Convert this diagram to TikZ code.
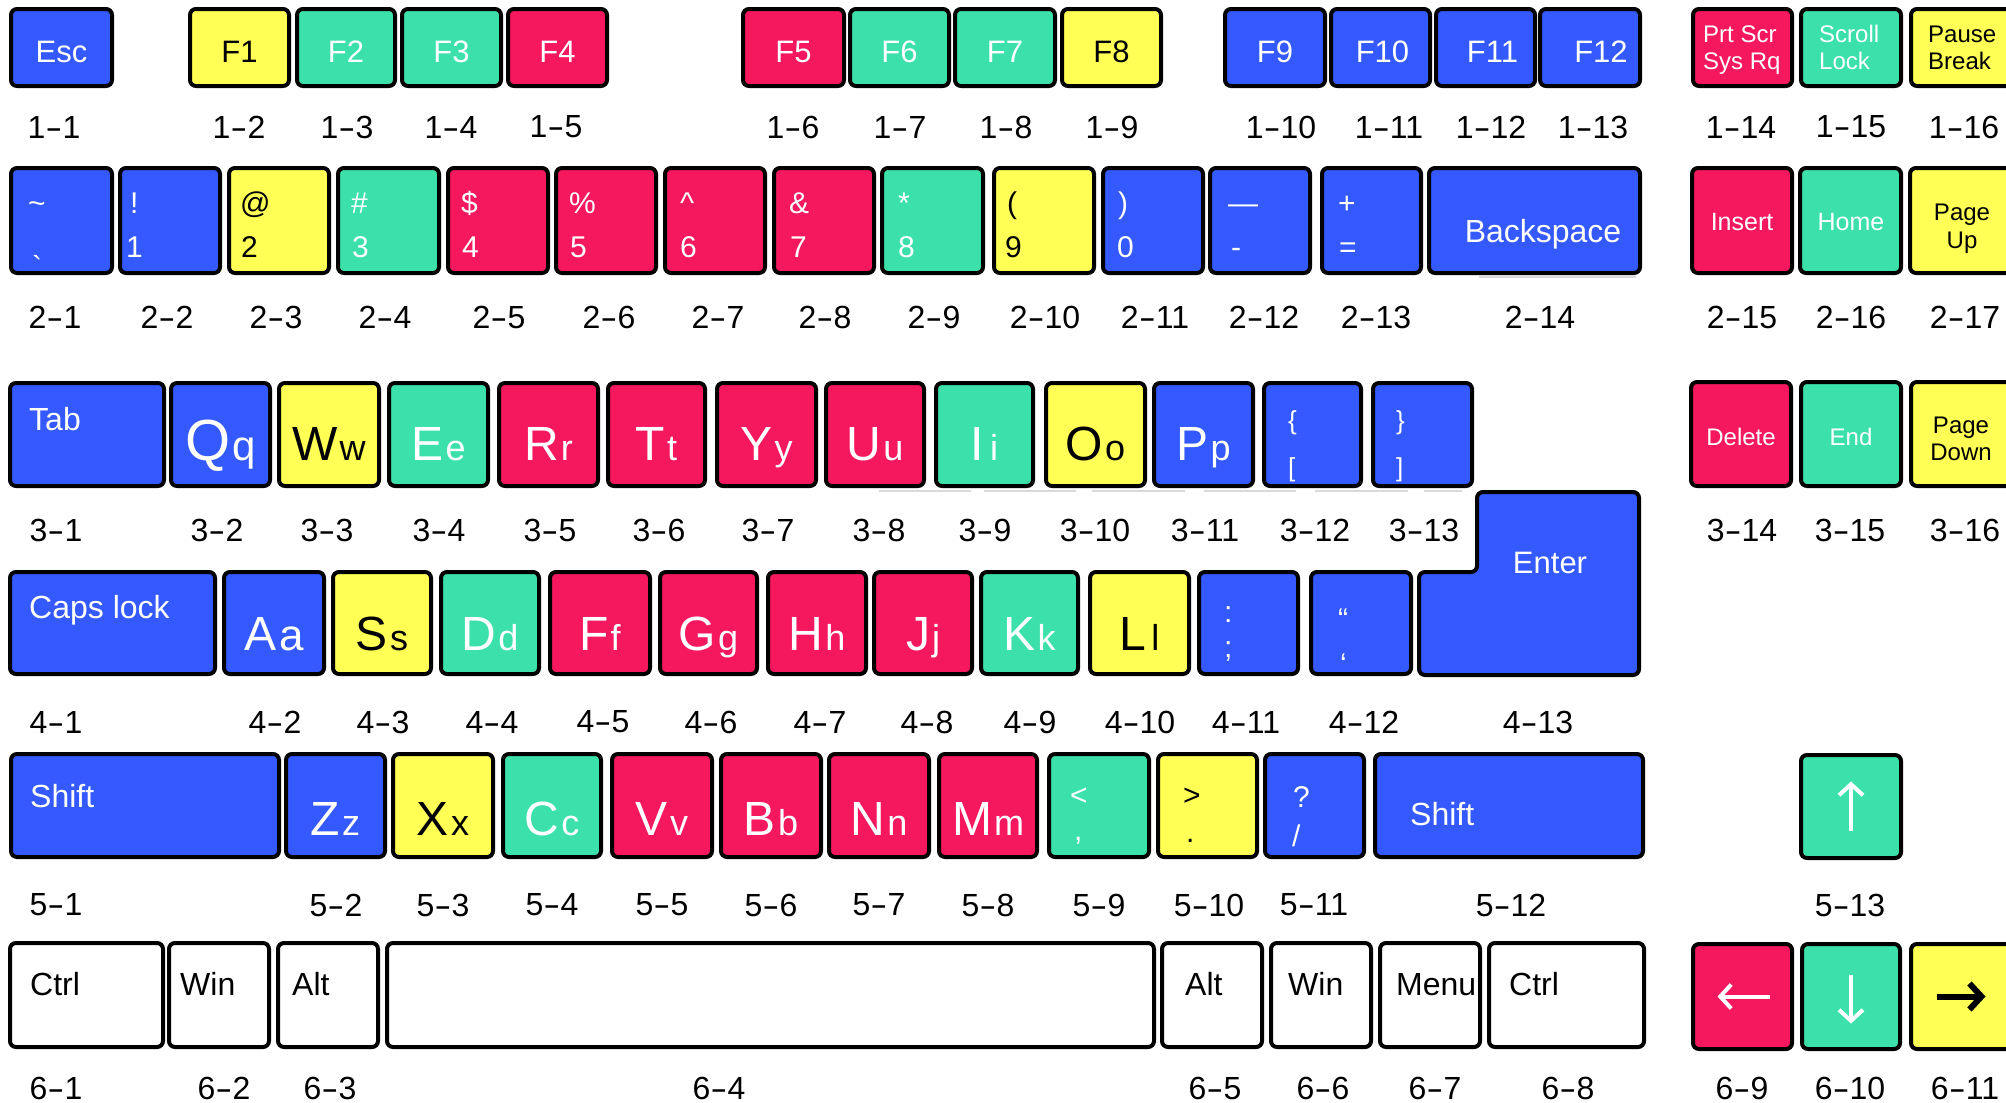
\documentclass[tikz,border=0pt]{standalone}
\usepackage{fontspec}
\usepackage{graphicx}
\setmainfont{Liberation Sans}
\usetikzlibrary{arrows.meta}
\definecolor{kb}{HTML}{3359FF}
\definecolor{kr}{HTML}{F5185F}
\definecolor{kg}{HTML}{3CE0AA}
\definecolor{ky}{HTML}{FFFF55}
\newcommand\hy{\scalebox{1.6}[1]{-}}
\newcommand\ltr[2]{{\fontsize{48}{48}\selectfont #1}\kern2pt{\fontsize{36}{36}\selectfont #2}}
\newcommand\ky[6]{\node[keyst,fill=#6,minimum width={(#4)-(#2)},minimum height={(#5)-(#3)}] (#1) at ({((#2)+(#4))/2},{((#3)+(#5))/2}) {};}
\newcommand\lb[4]{\node[lab] (l#1-#2) at (#3,#4) {#1\hy#2};}
\newcommand\tx[5]{\node[#4] (#1) at (#2,#3) {#5};}
\begin{document}
\begin{tikzpicture}[x=1pt,y=-1pt,
 keyst/.style={draw=black, line width=4pt, rounded corners=6pt, inner sep=0pt, outer sep=0pt},
 wt/.style={text=white, inner sep=0pt, anchor=base},
 bt/.style={text=black, inner sep=0pt, anchor=base},
 wl/.style={text=white, inner sep=0pt, anchor=base west},
 bl/.style={text=black, inner sep=0pt, anchor=base west},
 f31/.style={font=\fontsize{31}{31}\selectfont},
 f32/.style={font=\fontsize{32}{32}\selectfont},
 f30/.style={font=\fontsize{30}{30}\selectfont},
 f26/.style={font=\fontsize{26}{26}\selectfont},
 f25/.style={font=\fontsize{25}{25}\selectfont},
 f24/.style={font=\fontsize{24}{24}\selectfont},
 lab/.style={font=\fontsize{32}{32}\selectfont, inner sep=0pt, text=black},
 arw/.style={white, line width=4pt, -{Straight Barb[length=11pt,width=24pt]}},
 artf/.style={gray!30, line width=1.5pt}]
\useasboundingbox (0,0) rectangle (2006,1103);
\fill[white] (0,0) rectangle (2006,1103);
\clip (0,0) rectangle (2006,1103);

% ---------- row 1 ----------
\ky{k1-1}{11}{9}{112}{86}{kb}
\ky{k1-2}{190}{9}{289}{86}{ky}
\ky{k1-3}{297}{9}{395}{86}{kg}
\ky{k1-4}{402}{9}{501}{86}{kg}
\ky{k1-5}{508}{9}{607}{86}{kr}
\ky{k1-6}{743}{9}{844}{86}{kr}
\ky{k1-7}{850}{9}{949}{86}{kg}
\ky{k1-8}{955}{9}{1055}{86}{kg}
\ky{k1-9}{1062}{9}{1161}{86}{ky}
\ky{k1-10}{1225}{9}{1325}{86}{kb}
\ky{k1-11}{1331}{9}{1430}{86}{kb}
\ky{k1-12}{1436}{9}{1535}{86}{kb}
\ky{k1-13}{1540}{9}{1640}{86}{kb}
\ky{k1-14}{1693}{9}{1792}{86}{kr}
\ky{k1-15}{1801}{9}{1901}{86}{kg}
\ky{k1-16}{1911}{9}{2012}{86}{ky}
\node[wt,f31] (t1-1) at ([yshift=-14.5pt]k1-1.center) {Esc};
\node[bt,f31] (t1-2) at ([yshift=-14.5pt]k1-2.center) {F1};
\node[wt,f31] (t1-3) at ([yshift=-14.5pt]k1-3.center) {F2};
\node[wt,f31] (t1-4) at ([yshift=-14.5pt]k1-4.center) {F3};
\node[wt,f31] (t1-5) at ([yshift=-14.5pt]k1-5.center) {F4};
\node[wt,f31] (t1-6) at ([yshift=-14.5pt]k1-6.center) {F5};
\node[wt,f31] (t1-7) at ([yshift=-14.5pt]k1-7.center) {F6};
\node[wt,f31] (t1-8) at ([yshift=-14.5pt]k1-8.center) {F7};
\node[bt,f31] (t1-9) at ([yshift=-14.5pt]k1-9.center) {F8};
\node[wt,f31] (t1-10) at ([yshift=-14.5pt]k1-10.center) {F9};
\node[wt,f31] (t1-11) at ([yshift=-14.5pt,xshift=2pt]k1-11.center) {F10};
\node[wt,f31] (t1-12) at ([yshift=-14.5pt,xshift=7pt]k1-12.center) {F11};
\node[wt,f31] (t1-13) at ([yshift=-14.5pt,xshift=11pt]k1-13.center) {F12};
\tx{t1-14a}{1703}{42}{wl,f24}{Prt Scr}
\tx{t1-14b}{1703}{69}{wl,f24}{Sys Rq}
\tx{t1-15a}{1819}{42}{wl,f24}{Scroll}
\tx{t1-15b}{1819}{69}{wl,f24}{Lock}
\tx{t1-16a}{1928}{42}{bl,f24}{Pause}
\tx{t1-16b}{1928}{69}{bl,f24}{Break}
\lb{1}{1}{54}{127}
\lb{1}{2}{239}{127}
\lb{1}{3}{347}{127}
\lb{1}{4}{451}{127}
\lb{1}{5}{556}{127}
\lb{1}{6}{793}{127}
\lb{1}{7}{900}{127}
\lb{1}{8}{1006}{127}
\lb{1}{9}{1112}{127}
\lb{1}{10}{1281}{127}
\lb{1}{11}{1389}{127}
\lb{1}{12}{1491}{127}
\lb{1}{13}{1593}{127}
\lb{1}{14}{1741}{127}
\lb{1}{15}{1851}{127}
\lb{1}{16}{1964}{127}

% ---------- row 2 ----------
\ky{k2-1}{11}{168}{112}{273}{kb}
\ky{k2-2}{120}{168}{220}{273}{kb}
\ky{k2-3}{229}{168}{329}{273}{ky}
\ky{k2-4}{338}{168}{439}{273}{kg}
\ky{k2-5}{448}{168}{548}{273}{kr}
\ky{k2-6}{556}{168}{656}{273}{kr}
\ky{k2-7}{665}{168}{765}{273}{kr}
\ky{k2-8}{774}{168}{874}{273}{kr}
\ky{k2-9}{882}{168}{983}{273}{kg}
\ky{k2-10}{994}{168}{1094}{273}{ky}
\ky{k2-11}{1103}{168}{1203}{273}{kb}
\ky{k2-12}{1210}{168}{1310}{273}{kb}
\ky{k2-13}{1322}{168}{1421}{273}{kb}
\ky{k2-14}{1429}{168}{1640}{273}{kb}
\ky{k2-15}{1692}{168}{1792}{273}{kr}
\ky{k2-16}{1800}{168}{1901}{273}{kg}
\ky{k2-17}{1910}{168}{2012}{273}{ky}
\tx{t2-1a}{28}{213}{wl,f30}{\textasciitilde}
\tx{t2-1b}{32}{277}{wl,f30}{\textasciigrave}
\tx{t2-2a}{130}{213}{wl,f30}{!}
\tx{t2-2b}{126}{257}{wl,f30}{1}
\tx{t2-3a}{240}{213}{bl,f30}{@}
\tx{t2-3b}{241}{257}{bl,f30}{2}
\tx{t2-4a}{351}{213}{wl,f30}{\#}
\tx{t2-4b}{352}{257}{wl,f30}{3}
\tx{t2-5a}{461}{213}{wl,f30}{\$}
\tx{t2-5b}{462}{257}{wl,f30}{4}
\tx{t2-6a}{569}{213}{wl,f30}{\%}
\tx{t2-6b}{570}{257}{wl,f30}{5}
\tx{t2-7a}{680}{213}{wl,f30}{\textasciicircum}
\tx{t2-7b}{680}{257}{wl,f30}{6}
\tx{t2-8a}{789}{213}{wl,f30}{\&}
\tx{t2-8b}{790}{257}{wl,f30}{7}
\tx{t2-9a}{898}{213}{wl,f30}{*}
\tx{t2-9b}{898}{257}{wl,f30}{8}
\tx{t2-10a}{1007}{213}{bl,f30}{(}
\tx{t2-10b}{1005}{257}{bl,f30}{9}
\tx{t2-11a}{1118}{213}{wl,f30}{)}
\tx{t2-11b}{1117}{257}{wl,f30}{0}
\tx{t2-12a}{1228}{213}{wl,f30}{—}
\tx{t2-12b}{1231}{257}{wl,f30}{-}
\tx{t2-13a}{1338}{213}{wl,f30}{+}
\tx{t2-13b}{1339}{257}{wl,f30}{=}
\tx{t2-14}{1543}{242}{wt,f32}{Backspace}
\tx{t2-15}{1742}{230}{wt,f25}{Insert}
\tx{t2-16}{1851}{230}{wt,f25}{Home}
\tx{t2-17a}{1962}{220}{bt,f24}{Page}
\tx{t2-17b}{1962}{248}{bt,f24}{Up}
\lb{2}{1}{55}{317}
\lb{2}{2}{167}{317}
\lb{2}{3}{276}{317}
\lb{2}{4}{385}{317}
\lb{2}{5}{499}{317}
\lb{2}{6}{609}{317}
\lb{2}{7}{718}{317}
\lb{2}{8}{825}{317}
\lb{2}{9}{934}{317}
\lb{2}{10}{1045}{317}
\lb{2}{11}{1155}{317}
\lb{2}{12}{1264}{317}
\lb{2}{13}{1376}{317}
\lb{2}{14}{1540}{317}
\lb{2}{15}{1742}{317}
\lb{2}{16}{1851}{317}
\lb{2}{17}{1965}{317}

% ---------- row 3 ----------
\ky{k3-1}{10}{383}{164}{486}{kb}
\ky{k3-2}{171}{383}{270}{486}{kb}
\ky{k3-3}{279}{383}{379}{486}{ky}
\ky{k3-4}{389}{383}{488}{486}{kg}
\ky{k3-5}{499}{383}{598}{486}{kr}
\ky{k3-6}{608}{383}{705}{486}{kr}
\ky{k3-7}{717}{383}{816}{486}{kr}
\ky{k3-8}{826}{383}{924}{486}{kr}
\ky{k3-9}{936}{383}{1033}{486}{kg}
\ky{k3-10}{1046}{383}{1145}{486}{ky}
\ky{k3-11}{1154}{383}{1253}{486}{kb}
\ky{k3-12}{1264}{383}{1361}{486}{kb}
\ky{k3-13}{1373}{383}{1472}{486}{kb}
\ky{k3-14}{1691}{382}{1791}{486}{kr}
\ky{k3-15}{1801}{382}{1901}{486}{kg}
\ky{k3-16}{1911}{382}{2012}{486}{ky}
\draw[artf] (879,491) -- (971,491) (984,491) -- (1076,491) (1092,491) -- (1185,491)
  (1204,491) -- (1296,491) (1315,491) -- (1408,491) (1424,491) -- (1462,491);
\draw[artf] (1479,277) -- (1636,277);
\tx{t3-1}{29}{430}{wl,f32}{Tab}
\node[wt] (t3-2) at ([yshift=-25.5pt]k3-2.center) {{\fontsize{58}{58}\selectfont Q}\kern2pt{\fontsize{42}{42}\selectfont q}};
\node[bt] (t3-3) at ([yshift=-25.5pt]k3-3.center) {\ltr{W}{w}};
\node[wt] (t3-4) at ([yshift=-25.5pt]k3-4.center) {\ltr{E}{e}};
\node[wt] (t3-5) at ([yshift=-25.5pt]k3-5.center) {\ltr{R}{r}};
\node[wt] (t3-6) at ([yshift=-25.5pt]k3-6.center) {\ltr{T}{t}};
\node[wt] (t3-7) at ([yshift=-25.5pt]k3-7.center) {\ltr{Y}{y}};
\node[wt] (t3-8) at ([yshift=-25.5pt]k3-8.center) {\ltr{U}{u}};
\node[wt] (t3-9) at ([yshift=-25.5pt]k3-9.center) {\ltr{I}{\kern4pt i}};
\node[bt] (t3-10) at ([yshift=-25.5pt]k3-10.center) {\ltr{O}{o}};
\node[wt] (t3-11) at ([yshift=-25.5pt]k3-11.center) {\ltr{P}{p}};
\tx{t3-12a}{1288}{429}{wl,f26}{\{}
\tx{t3-12b}{1288}{476}{wl,f26}{[}
\tx{t3-13a}{1396}{429}{wl,f26}{\}}
\tx{t3-13b}{1396}{476}{wl,f26}{]}
\tx{t3-14}{1741}{445}{wt,f24}{Delete}
\tx{t3-15}{1851}{445}{wt,f24}{End}
\tx{t3-16a}{1961}{433}{bt,f24}{Page}
\tx{t3-16b}{1961}{460}{bt,f24}{Down}
\lb{3}{1}{56}{530}
\lb{3}{2}{217}{530}
\lb{3}{3}{327}{530}
\lb{3}{4}{439}{530}
\lb{3}{5}{550}{530}
\lb{3}{6}{659}{530}
\lb{3}{7}{768}{530}
\lb{3}{8}{879}{530}
\lb{3}{9}{985}{530}
\lb{3}{10}{1095}{530}
\lb{3}{11}{1205}{530}
\lb{3}{12}{1315}{530}
\lb{3}{13}{1424}{530}
\lb{3}{14}{1742}{530}
\lb{3}{15}{1850}{530}
\lb{3}{16}{1965}{530}

% ---------- row 4 ----------
\ky{k4-1}{10}{572}{215}{674}{kb}
\ky{k4-2}{224}{572}{324}{674}{kb}
\ky{k4-3}{333}{572}{431}{674}{ky}
\ky{k4-4}{441}{572}{539}{674}{kg}
\ky{k4-5}{550}{572}{650}{674}{kr}
\ky{k4-6}{660}{572}{757}{674}{kr}
\ky{k4-7}{768}{572}{866}{674}{kr}
\ky{k4-8}{874}{572}{972}{674}{kr}
\ky{k4-9}{981}{572}{1078}{674}{kg}
\ky{k4-10}{1090}{572}{1189}{674}{ky}
\ky{k4-11}{1199}{572}{1298}{674}{kb}
\ky{k4-12}{1311}{572}{1411}{674}{kb}
\draw[keyst,fill=kb] (1419,572) -- (1477,572) -- (1477,492) -- (1639,492) -- (1639,675) -- (1419,675) -- cycle;
\coordinate (k4-13) at (1529,623);
\tx{t4-13}{1550}{573}{wt,f31}{Enter}
\tx{t4-1}{29}{618}{wl,f32}{Caps lock}
\node[wt] (t4-2) at ([yshift=-27pt]k4-2.center) {{\fontsize{48}{48}\selectfont A}\kern3pt{\fontsize{44}{44}\selectfont a}};
\node[bt] (t4-3) at ([yshift=-27pt]k4-3.center) {\ltr{S}{s}};
\node[wt] (t4-4) at ([yshift=-27pt]k4-4.center) {\ltr{D}{d}};
\node[wt] (t4-5) at ([yshift=-27pt]k4-5.center) {\ltr{F}{f}};
\node[wt] (t4-6) at ([yshift=-27pt]k4-6.center) {\ltr{G}{g}};
\node[wt] (t4-7) at ([yshift=-27pt]k4-7.center) {\ltr{H}{h}};
\node[wt] (t4-8) at ([yshift=-27pt]k4-8.center) {\ltr{J}{j}};
\node[wt] (t4-9) at ([yshift=-27pt]k4-9.center) {\ltr{K}{k}};
\node[bt] (t4-10) at ([yshift=-27pt]k4-10.center) {\ltr{L}{\kern3pt l}};
\tx{t4-11a}{1224}{622}{wl,f30}{:}
\tx{t4-11b}{1224}{657}{wl,f30}{;}
\tx{t4-12a}{1338}{629}{wl,f30}{“}
\tx{t4-12b}{1340}{674}{wl,f30}{‘}
\lb{4}{1}{56}{722}
\lb{4}{2}{275}{722}
\lb{4}{3}{383}{722}
\lb{4}{4}{492}{722}
\lb{4}{5}{603}{722}
\lb{4}{6}{711}{722}
\lb{4}{7}{820}{722}
\lb{4}{8}{927}{722}
\lb{4}{9}{1030}{722}
\lb{4}{10}{1140}{722}
\lb{4}{11}{1246}{722}
\lb{4}{12}{1364}{722}
\lb{4}{13}{1538}{722}

% ---------- row 5 ----------
\ky{k5-1}{11}{754}{279}{857}{kb}
\ky{k5-2}{286}{754}{385}{857}{kb}
\ky{k5-3}{393}{754}{493}{857}{ky}
\ky{k5-4}{503}{754}{601}{857}{kg}
\ky{k5-5}{612}{754}{712}{857}{kr}
\ky{k5-6}{721}{754}{821}{857}{kr}
\ky{k5-7}{829}{754}{929}{857}{kr}
\ky{k5-8}{939}{754}{1037}{857}{kr}
\ky{k5-9}{1049}{754}{1149}{857}{kg}
\ky{k5-10}{1158}{754}{1257}{857}{ky}
\ky{k5-11}{1265}{754}{1364}{857}{kb}
\ky{k5-12}{1375}{754}{1643}{857}{kb}
\ky{k5-13}{1801}{755}{1901}{858}{kg}
\tx{t5-1}{30}{807}{wl,f32}{Shift}
\node[wt] (t5-2) at ([yshift=-30pt]k5-2.center) {\ltr{Z}{z}};
\node[bt] (t5-3) at ([yshift=-30pt]k5-3.center) {\ltr{X}{x}};
\node[wt] (t5-4) at ([yshift=-30pt]k5-4.center) {\ltr{C}{c}};
\node[wt] (t5-5) at ([yshift=-30pt]k5-5.center) {\ltr{V}{v}};
\node[wt] (t5-6) at ([yshift=-30pt]k5-6.center) {\ltr{B}{b}};
\node[wt] (t5-7) at ([yshift=-30pt]k5-7.center) {\ltr{N}{n}};
\node[wt] (t5-8) at ([yshift=-30pt]k5-8.center) {\ltr{M}{m}};
\tx{t5-9a}{1070}{805}{wl,f30}{<}
\tx{t5-9b}{1074}{840}{wl,f30}{,}
\tx{t5-10a}{1183}{805}{bl,f30}{>}
\tx{t5-10b}{1186}{842}{bl,f30}{.}
\tx{t5-11a}{1293}{807}{wl,f30}{?}
\tx{t5-11b}{1292}{846}{wl,f30}{/}
\tx{t5-12}{1410}{825}{wl,f32}{Shift}
\draw[arw] ([yshift=-24pt]k5-13.center) -- ([yshift=25pt]k5-13.center);
\lb{5}{1}{56}{905}
\lb{5}{2}{336}{905}
\lb{5}{3}{443}{905}
\lb{5}{4}{552}{905}
\lb{5}{5}{662}{905}
\lb{5}{6}{771}{905}
\lb{5}{7}{879}{905}
\lb{5}{8}{988}{905}
\lb{5}{9}{1099}{905}
\lb{5}{10}{1209}{905}
\lb{5}{11}{1314}{905}
\lb{5}{12}{1511}{905}
\lb{5}{13}{1850}{905}

% ---------- row 6 ----------
\ky{k6-1}{10}{943}{163}{1047}{white}
\ky{k6-2}{169}{943}{269}{1047}{white}
\ky{k6-3}{278}{943}{378}{1047}{white}
\ky{k6-4}{387}{943}{1154}{1047}{white}
\ky{k6-5}{1162}{943}{1262}{1047}{white}
\ky{k6-6}{1271}{943}{1371}{1047}{white}
\ky{k6-7}{1380}{943}{1480}{1047}{white}
\ky{k6-8}{1489}{943}{1644}{1047}{white}
\ky{k6-9}{1693}{944}{1792}{1049}{kr}
\ky{k6-10}{1802}{944}{1900}{1049}{kg}
\ky{k6-11}{1911}{944}{2012}{1049}{ky}
\tx{t6-1}{30}{995}{bl,f32}{Ctrl}
\tx{t6-2}{180}{995}{bl,f32}{Win}
\tx{t6-3}{292}{995}{bl,f32}{Alt}
\tx{t6-5}{1185}{995}{bl,f32}{Alt}
\tx{t6-6}{1288}{995}{bl,f32}{Win}
\tx{t6-7}{1396}{995}{bl,f32}{Menu}
\tx{t6-8}{1509}{995}{bl,f32}{Ctrl}
\draw[arw] ([xshift=27pt]k6-9.center) -- ([xshift=-25pt]k6-9.center);
\draw[arw] ([yshift=22pt]k6-10.center) -- ([yshift=-27pt]k6-10.center);
\draw[black, line width=6pt, -{Straight Barb[length=12pt,width=26pt]}] ([xshift=-25pt]k6-11.center) -- ([xshift=24pt]k6-11.center);
\lb{6}{1}{56}{1088}
\lb{6}{2}{224}{1088}
\lb{6}{3}{330}{1088}
\lb{6}{4}{719}{1088}
\lb{6}{5}{1215}{1088}
\lb{6}{6}{1323}{1088}
\lb{6}{7}{1435}{1088}
\lb{6}{8}{1568}{1088}
\lb{6}{9}{1742}{1088}
\lb{6}{10}{1850}{1088}
\lb{6}{11}{1965}{1088}
\end{tikzpicture}
\end{document}
